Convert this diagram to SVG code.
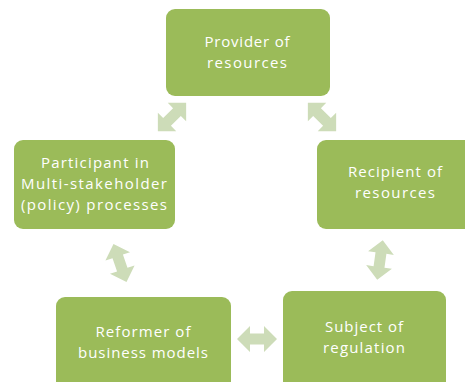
<svg xmlns="http://www.w3.org/2000/svg" width="465" height="382" viewBox="0 0 465 382">
<style>
.box{fill:#9BBB59}
.lbl{fill:#fff;font-family:"Open Sans","Liberation Sans",sans-serif;font-size:15px;text-anchor:middle}
.arr{fill:#CDDCB8}
</style>
<defs>
<polygon id="dbl" points="-20,0 -7,-13 -7,-5.5 7,-5.5 7,-13 20,0 7,13 7,5.5 -7,5.5 -7,13"/>
</defs>
<rect width="465" height="382" fill="#fff"/>
<g id="connectors">
<use href="#dbl" class="arr" transform="translate(172,117) rotate(-45)"/>
<use href="#dbl" class="arr" transform="translate(322,117) rotate(45)"/>
<use href="#dbl" class="arr" transform="translate(120,263) rotate(71)"/>
<use href="#dbl" class="arr" transform="translate(380,260) rotate(98)"/>
<use href="#dbl" class="arr" transform="translate(257,339)"/>
</g>
<g id="provider">
<rect class="box" x="166" y="9" width="164" height="87" rx="9"/>
<text class="lbl" x="247" y="47" textLength="85" lengthAdjust="spacing">Provider of</text>
<text class="lbl" x="247" y="68" textLength="80" lengthAdjust="spacing">resources</text>
</g>
<g id="participant">
<rect class="box" x="14" y="140" width="161" height="89" rx="9"/>
<text class="lbl" x="95" y="168" textLength="108" lengthAdjust="spacing">Participant in</text>
<text class="lbl" x="94" y="189" textLength="146" lengthAdjust="spacing">Multi-stakeholder</text>
<text class="lbl" x="94" y="210" textLength="146" lengthAdjust="spacing">(policy) processes</text>
</g>
<g id="recipient">
<rect class="box" x="317" y="140" width="160" height="89" rx="9"/>
<text class="lbl" x="395" y="177" textLength="94" lengthAdjust="spacing">Recipient of</text>
<text class="lbl" x="395" y="198" textLength="80" lengthAdjust="spacing">resources</text>
</g>
<g id="reformer">
<rect class="box" x="56" y="297" width="175" height="95" rx="9"/>
<text class="lbl" x="143" y="337" textLength="95" lengthAdjust="spacing">Reformer of</text>
<text class="lbl" x="143" y="358" textLength="130" lengthAdjust="spacing">business models</text>
</g>
<g id="subject">
<rect class="box" x="283" y="291" width="163" height="100" rx="9"/>
<text class="lbl" x="364" y="332" textLength="78" lengthAdjust="spacing">Subject of</text>
<text class="lbl" x="364" y="353" textLength="82" lengthAdjust="spacing">regulation</text>
</g>
</svg>
